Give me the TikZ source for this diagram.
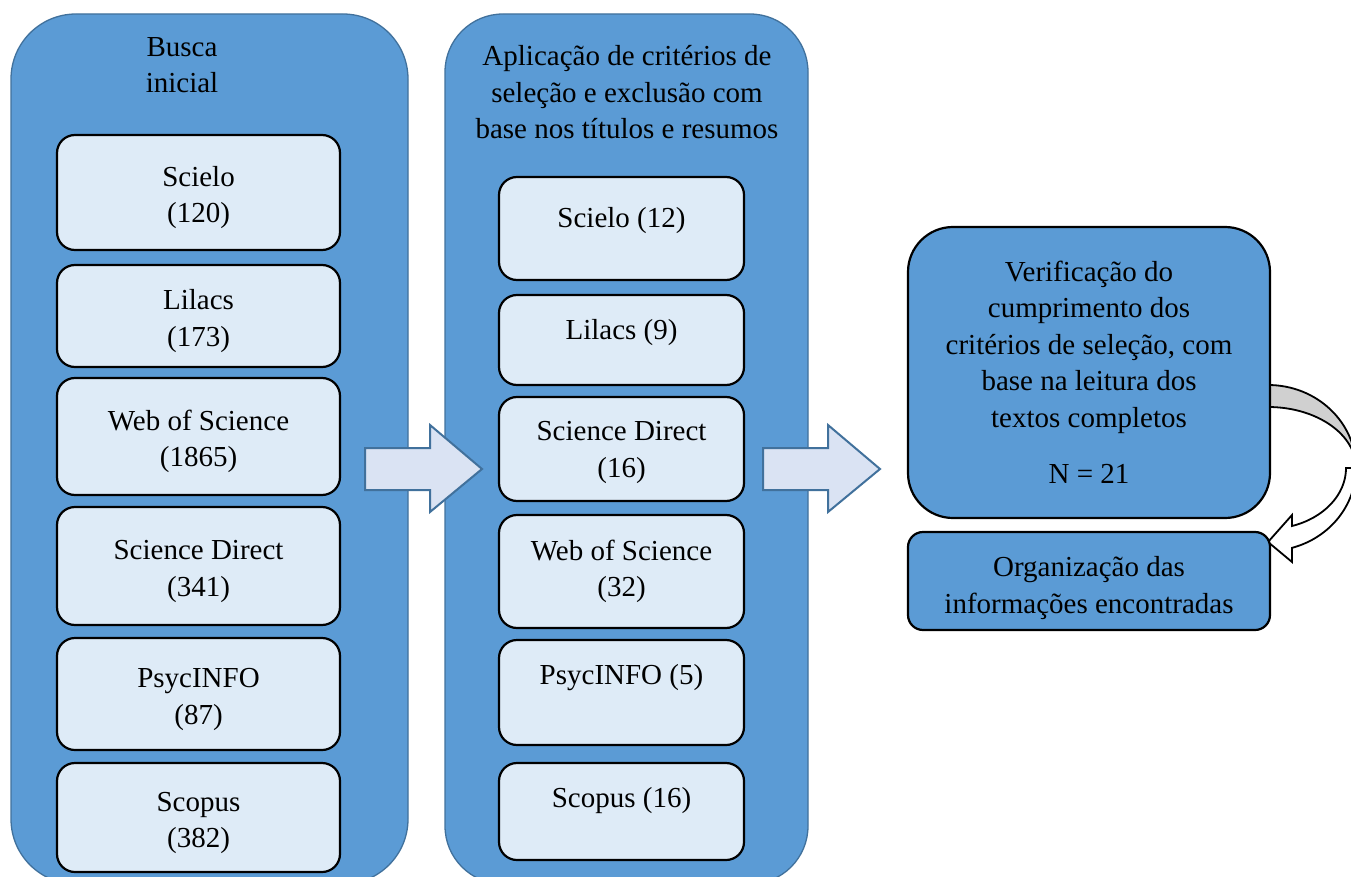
\documentclass[tikz,border=0pt]{standalone}
\usepackage{fontspec}
\setmainfont{Liberation Serif}
\definecolor{panelblue}{RGB}{91,155,213}
\definecolor{paneledge}{RGB}{65,113,156}
\definecolor{boxfill}{RGB}{222,235,247}
\definecolor{arrowfill}{RGB}{218,227,243}
\definecolor{loopgray}{RGB}{208,208,208}
\newcommand{\toppad}[1]{\rule{0pt}{#1}}
\tikzset{
	panel/.style={draw=paneledge, fill=panelblue, line width=1.3pt, inner sep=0pt},
	dbbox/.style={draw=black, fill=boxfill, line width=2.2pt, rounded corners=18pt, inner sep=0pt, align=center},
	stepbox/.style={draw=black, fill=panelblue, line width=2.2pt, inner sep=0pt, align=center, minimum width=362pt},
	blockarrow/.style={draw=paneledge, fill=arrowfill, line width=2pt, line join=miter},
	loopline/.style={draw=black, line width=1.8pt},
}
\begin{document}
\begin{tikzpicture}[x=1pt,y=1pt,yscale=-1,xscale=1,font=\fontsize{29}{36.5}\selectfont]
	\useasboundingbox (0,0) rectangle (1351,877);
	\clip (0,0) rectangle (1351,877);
	
	%Shape: Panels
	\node [panel, rounded corners=65pt, minimum width=397pt, minimum height=870pt] (pleft) at (209.5,449) {};
	\node [panel, rounded corners=58pt, minimum width=363pt, minimum height=870pt] (pmid) at (626.5,449) {};
	
	% Text Node
	\node [align=center, inner sep=0pt] (busca) at (182,65) {Busca\\inicial};
	% Text Node
	\node [align=center, inner sep=0pt] (aplic) at (627,92.5) {Aplicação de critérios de\\seleção e exclusão com\\base nos títulos e resumos};
	
	%Shape: Initial search boxes
	\node [dbbox, minimum width=283pt, minimum height=115pt] (l1) at (198.5,192.5) {\toppad{30pt}Scielo\\(120)};
	\node [dbbox, minimum width=283pt, minimum height=102pt] (l2) at (198.5,316) {\toppad{30pt}Lilacs\\(173)};
	\node [dbbox, minimum width=283pt, minimum height=117pt] (l3) at (198.5,436.5) {\toppad{30pt}Web of Science\\(1865)};
	\node [dbbox, minimum width=283pt, minimum height=118pt] (l4) at (198.5,566) {\toppad{30pt}Science Direct\\(341)};
	\node [dbbox, minimum width=283pt, minimum height=112pt] (l5) at (198.5,694) {\toppad{30pt}PsycINFO\\(87)};
	\node [dbbox, minimum width=283pt, minimum height=109pt] (l6) at (198.5,817.5) {\toppad{30pt}Scopus\\(382)};
	
	%Shape: Selected boxes
	\node [dbbox, minimum width=245pt, minimum height=103pt, text height=20pt, text depth=22pt] (m1) at (621.5,228.5) {Scielo (12)};
	\node [dbbox, minimum width=245pt, minimum height=90pt, text height=20pt, text depth=21pt] (m2) at (621.5,340) {Lilacs (9)};
	\node [dbbox, minimum width=245pt, minimum height=104pt] (m3) at (621.5,449) {\toppad{26pt}Science Direct\\(16)};
	\node [dbbox, minimum width=245pt, minimum height=113pt] (m4) at (621.5,571.5) {Web of Science\\(32)};
	\node [dbbox, minimum width=245pt, minimum height=105pt, text height=20pt, text depth=36pt] (m5) at (621.5,692.5) {PsycINFO (5)};
	\node [dbbox, minimum width=245pt, minimum height=97pt, text height=20pt, text depth=28pt] (m6) at (621.5,811.5) {Scopus (16)};
	
	%Shape: Right Arrows
	\draw [blockarrow] (365,448) -- (430,448) -- (430,425) -- (482,469) -- (430,512) -- (430,490) -- (365,490) -- cycle;
	\draw [blockarrow] (763,448) -- (828,448) -- (828,425) -- (880,469) -- (828,512) -- (828,490) -- (763,490) -- cycle;
	
	%Shape: Curved Left Arrow
	\draw [loopline, fill=white] (1356,468) arc[start angle=0, end angle=74.2, x radius=88, y radius=83] -- (1292,562) -- (1268,542) -- (1292,515) -- (1292,526) arc[start angle=72.1, end angle=0, x radius=78, y radius=61] -- cycle;
	\draw [loopline, fill=loopgray] (1268,385) arc[start angle=-90, end angle=0, x radius=88, y radius=83] arc[start angle=0, end angle=-90, x radius=88, y radius=61] -- cycle;
	
	%Shape: Final steps
	\node [stepbox, rounded corners=45pt, minimum height=291pt] (verif) at (1089,372.5) {Verificação do\\cumprimento dos\\critérios de seleção, com\\base na leitura dos\\textos completos\\[20pt]N = 21};
	\node [stepbox, rounded corners=15pt, minimum height=98pt] (org) at (1089,581) {\toppad{34pt}Organização das\\informações encontradas};
	
\end{tikzpicture}
\end{document}
